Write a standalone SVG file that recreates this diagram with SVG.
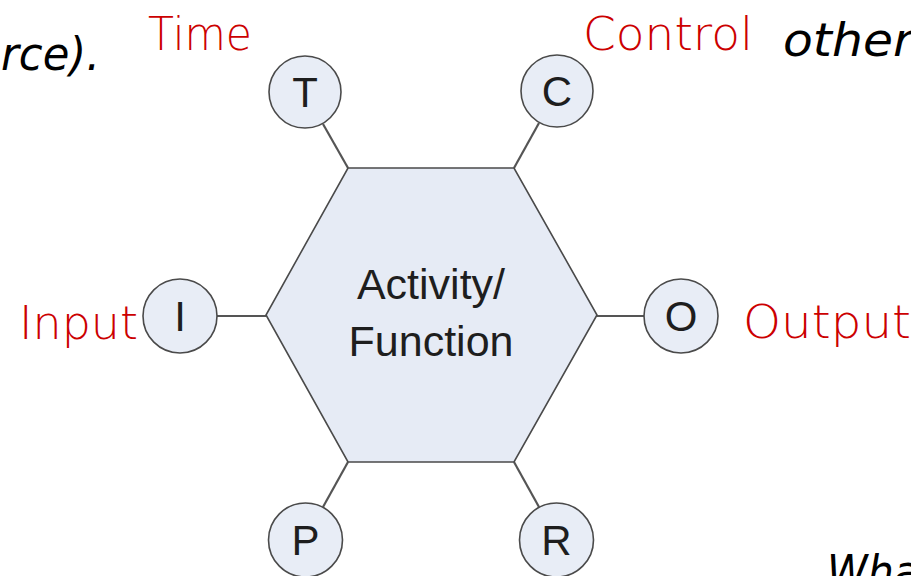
<svg xmlns="http://www.w3.org/2000/svg" width="911" height="576" viewBox="0 0 911 576">
<style>
.hex{fill:#e6ebf5;stroke:#4a4a4a;stroke-width:1.6}
.port{fill:#e8edf6;stroke:#4a4a4a;stroke-width:1.6}
.conn{stroke:#555;stroke-width:2.2;fill:none}
.letter{font-family:"Liberation Sans",Arial,sans-serif;font-size:42px;fill:#1e1e1e;text-anchor:middle}
.main{font-family:"Liberation Sans",Arial,sans-serif;font-size:43px;fill:#1e1e1e;text-anchor:middle}
.red{font-family:"DejaVu Sans","Noto Sans",sans-serif;font-size:46px;fill:#cc0000;font-weight:300}
.blk{font-family:"DejaVu Sans","Noto Sans",sans-serif;font-size:46px;fill:#000;font-style:italic;font-weight:300}
</style>
<rect width="911" height="576" fill="#ffffff"/>
<g id="connectors">
<line class="conn" x1="323" y1="124" x2="348" y2="168"/>
<line class="conn" x1="539" y1="123" x2="514" y2="168"/>
<line class="conn" x1="217" y1="316" x2="266" y2="316"/>
<line class="conn" x1="597" y1="316" x2="645" y2="316"/>
<line class="conn" x1="348" y1="462" x2="323" y2="507"/>
<line class="conn" x1="514" y1="462" x2="539" y2="507"/>
</g>
<g id="activity">
<polygon class="hex" points="348,168 514,168 597,315 514,462 348,462 266,315"/>
<text class="main" x="431" y="299">Activity/</text>
<text class="main" x="431" y="356">Function</text>
</g>
<g id="node-T"><circle class="port" cx="305" cy="92" r="36"/><text class="letter" x="305" y="107">T</text></g>
<g id="node-C"><circle class="port" cx="557" cy="91" r="36"/><text class="letter" x="557" y="106">C</text></g>
<g id="node-I"><circle class="port" cx="180" cy="316" r="37"/><text class="letter" x="180" y="331">I</text></g>
<g id="node-O"><circle class="port" cx="681" cy="316" r="37"/><text class="letter" x="681" y="331">O</text></g>
<g id="node-P"><circle class="port" cx="305.5" cy="540" r="37"/><text class="letter" x="305.5" y="555">P</text></g>
<g id="node-R"><circle class="port" cx="556.5" cy="540" r="37"/><text class="letter" x="556.5" y="555">R</text></g>
<g id="labels">
<text class="red" x="148" y="50" textLength="104" lengthAdjust="spacingAndGlyphs">Time</text>
<text class="red" x="583" y="50" textLength="170" lengthAdjust="spacingAndGlyphs">Control</text>
<text class="red" x="19" y="339" textLength="119" lengthAdjust="spacingAndGlyphs">Input</text>
<text class="red" x="743" y="338" textLength="168" lengthAdjust="spacingAndGlyphs">Output</text>
<text class="blk" x="1" y="70" textLength="99" lengthAdjust="spacingAndGlyphs">rce).</text>
<text class="blk" x="783" y="56" textLength="130" lengthAdjust="spacingAndGlyphs">other</text>
<text class="blk" x="827" y="588" textLength="92" lengthAdjust="spacingAndGlyphs">Wha</text>
</g>
</svg>
